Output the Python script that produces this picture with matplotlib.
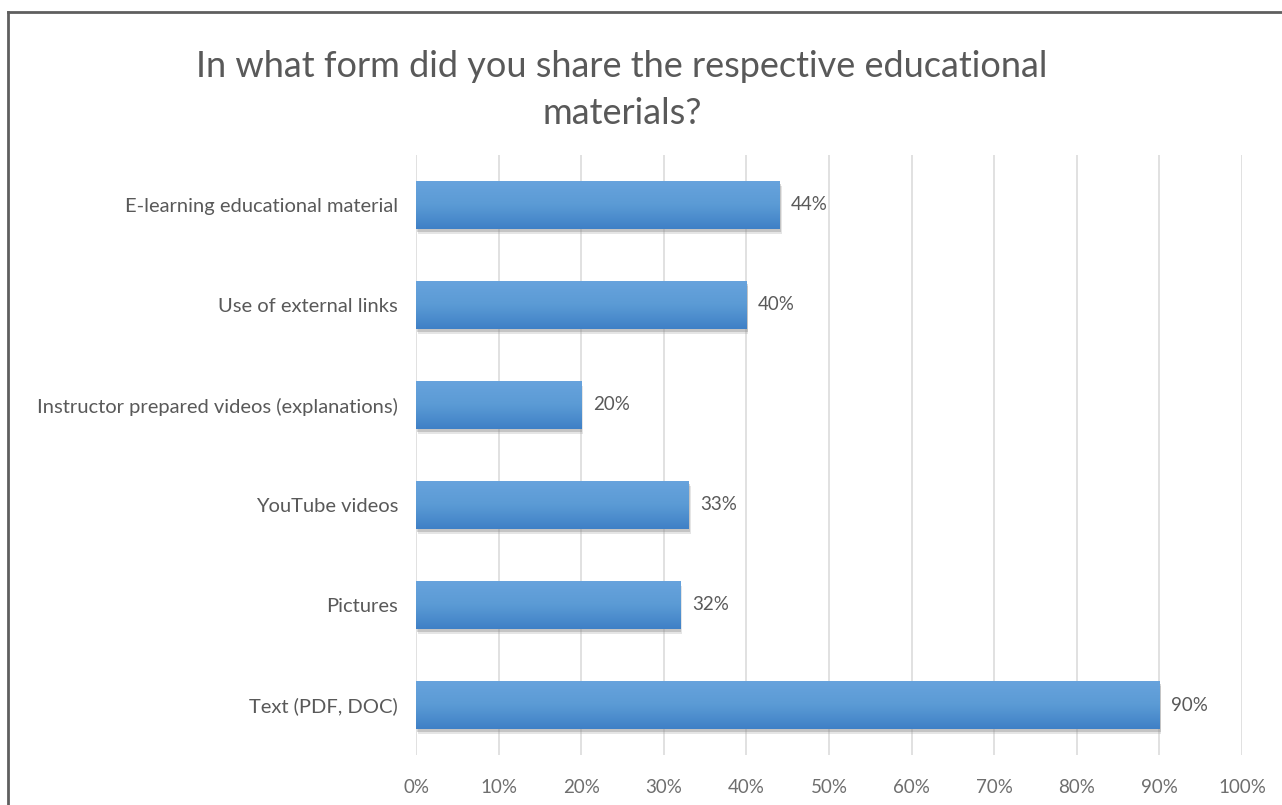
import numpy as np
import matplotlib
matplotlib.use("Agg")
import matplotlib.pyplot as plt
from matplotlib import patheffects as pe
from matplotlib.lines import Line2D
from matplotlib.colors import LinearSegmentedColormap

plt.rcParams['font.family'] = ['Lato', 'DejaVu Sans']

title = "In what form did you share the respective educational\nmaterials?"
categories = [
    "E-learning educational material",
    "Use of external links",
    "Instructor prepared videos (explanations)",
    "YouTube videos",
    "Pictures",
    "Text (PDF, DOC)",
]
values = [44, 40, 20, 33, 32, 90]
x_ticks = [0, 10, 20, 30, 40, 50, 60, 70, 80, 90, 100]
x_tick_labels = [f"{t}%" for t in x_ticks]

text_color = "#595959"
grid_color = "#d9d9d9"

fig = plt.figure(figsize=(12.82, 8.05), dpi=100)
ax = fig.add_axes([0.3245, 0.0621, 0.6443, 0.7454])

y = np.arange(len(categories))
bar_h = 0.48
bars = ax.barh(y, values, height=bar_h, color="#5b9bd5", zorder=3,
               path_effects=[pe.SimplePatchShadow(offset=(1.5, -3.5), shadow_rgbFace="#9a9a9a", alpha=0.25),
                             pe.SimplePatchShadow(offset=(0.8, -2.0), shadow_rgbFace="#7a7a7a", alpha=0.3),
                             pe.Normal()])

# vertical gradient fill inside each bar
cmap = LinearSegmentedColormap.from_list("barfill", ["#68a3dd", "#5b9bd5", "#3f80c6"])
grad = np.linspace(0, 1, 256).reshape(-1, 1)
for rect in bars:
    x0, y0 = rect.get_x(), rect.get_y()
    w, h = rect.get_width(), rect.get_height()
    im = ax.imshow(grad, cmap=cmap, aspect="auto", extent=[x0, x0 + w, y0 + h, y0],
                   origin="upper", zorder=4, interpolation="bicubic")
    im.set_clip_path(rect)

for yi, v in zip(y, values):
    ax.text(v + 1.4, yi, f"{v}%", va="center", ha="left", fontsize=13.5, color=text_color, zorder=5)

ax.set_ylim(len(categories) - 0.5, -0.5)
ax.set_xlim(0, 100)
ax.set_yticks(y)
ax.set_yticklabels(categories, fontsize=14.5, color=text_color)
ax.set_xticks(x_ticks)
ax.set_xticklabels(x_tick_labels, fontsize=13.5, color="#6e6e6e")
ax.tick_params(axis="both", length=0)
ax.tick_params(axis="y", pad=13)
ax.tick_params(axis="x", pad=17)
ax.xaxis.grid(True, color=grid_color, linewidth=1.1, zorder=0)
ax.set_axisbelow(True)
for s in ax.spines.values():
    s.set_visible(False)

fig.text(0.485, 0.888, title, ha="center", va="center", fontsize=26, color=text_color,
         linespacing=1.5)

# outer frame (left and top edges)
fig.add_artist(Line2D([8 / 1282, 8 / 1282], [0, 1 - 12 / 805], transform=fig.transFigure,
                      color="#5f5f5f", linewidth=2))
fig.add_artist(Line2D([8 / 1282, 1], [1 - 12 / 805, 1 - 12 / 805], transform=fig.transFigure,
                      color="#5f5f5f", linewidth=2))

fig.savefig("out.png", dpi=100, facecolor="white")
